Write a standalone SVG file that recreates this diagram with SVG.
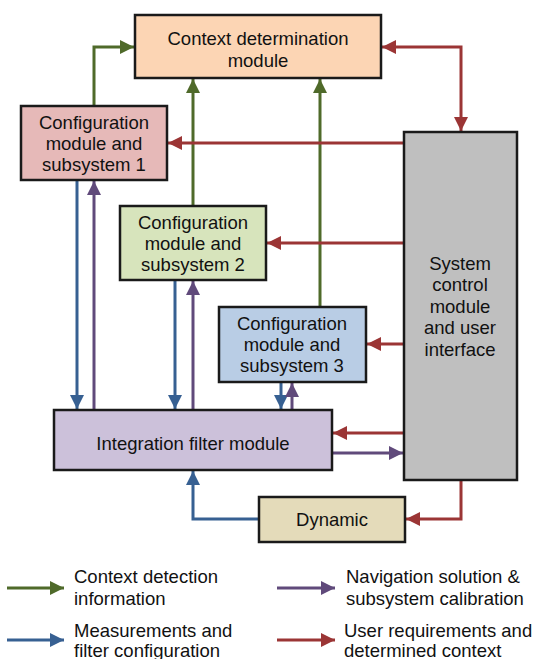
<svg xmlns="http://www.w3.org/2000/svg" width="534" height="659" viewBox="0 0 534 659">
<style>
.box{stroke:#1a1a1a;stroke-width:2.5}
text{font-family:"Liberation Sans",Arial,sans-serif;font-size:18.5px;fill:#111;text-anchor:middle}
.lg{text-anchor:start}
.c{fill:none;stroke-width:3}
.g{stroke:#4F6A2A}.b{stroke:#376092}.p{stroke:#604A7B}.r{stroke:#9B3535}
</style>
<defs>
<marker id="ag" markerUnits="userSpaceOnUse" markerWidth="15" markerHeight="15" refX="14" refY="7" orient="auto"><path d="M0,0L14,7L0,14z" fill="#4F6A2A"/></marker>
<marker id="ab" markerUnits="userSpaceOnUse" markerWidth="15" markerHeight="15" refX="14" refY="7" orient="auto"><path d="M0,0L14,7L0,14z" fill="#376092"/></marker>
<marker id="ap" markerUnits="userSpaceOnUse" markerWidth="15" markerHeight="15" refX="14" refY="7" orient="auto"><path d="M0,0L14,7L0,14z" fill="#604A7B"/></marker>
<marker id="ar" markerUnits="userSpaceOnUse" markerWidth="15" markerHeight="15" refX="14" refY="7" orient="auto"><path d="M0,0L14,7L0,14z" fill="#9B3535"/></marker>
<marker id="ars" markerUnits="userSpaceOnUse" markerWidth="15" markerHeight="15" refX="0" refY="7" orient="auto"><path d="M14,0L0,7L14,14z" fill="#9B3535"/></marker>
</defs>
<rect width="534" height="659" fill="#fff"/>
<g id="connectors">
<path class="c g" d="M94,106V47H134" marker-end="url(#ag)"/>
<path class="c g" d="M193,206V79" marker-end="url(#ag)"/>
<path class="c g" d="M320,307V79" marker-end="url(#ag)"/>
<path class="c r" d="M382,47H461V131" marker-start="url(#ars)" marker-end="url(#ar)"/>
<path class="c r" d="M404,143H168" marker-end="url(#ar)"/>
<path class="c r" d="M404,243H267" marker-end="url(#ar)"/>
<path class="c r" d="M404,344H367" marker-end="url(#ar)"/>
<path class="c r" d="M404,433H333" marker-end="url(#ar)"/>
<path class="c p" d="M332,453H403" marker-end="url(#ap)"/>
<path class="c b" d="M77,181V409" marker-end="url(#ab)"/>
<path class="c p" d="M94,410V181" marker-end="url(#ap)"/>
<path class="c b" d="M175,281V409" marker-end="url(#ab)"/>
<path class="c p" d="M193,410V281" marker-end="url(#ap)"/>
<path class="c b" d="M281,383V409" marker-end="url(#ab)"/>
<path class="c p" d="M292,410V383" marker-end="url(#ap)"/>
<path class="c r" d="M461,480V519H406" marker-end="url(#ar)"/>
<path class="c b" d="M259,519H193V471" marker-end="url(#ab)"/>
</g>
<g id="context">
<rect class="box" x="135" y="15" width="246" height="63" fill="#FCD5B4"/>
<text x="258" y="44.5">Context determination</text>
<text x="258" y="66.5">module</text>
</g>
<g id="config1">
<rect class="box" x="21" y="106" width="146" height="74" fill="#E6B9B8"/>
<text x="94" y="128.5">Configuration</text>
<text x="94" y="149.5">module and</text>
<text x="94" y="171">subsystem 1</text>
</g>
<g id="config2">
<rect class="box" x="120" y="206" width="146" height="74" fill="#D7E4BC"/>
<text x="193" y="228.5">Configuration</text>
<text x="193" y="249.5">module and</text>
<text x="193" y="270.5">subsystem 2</text>
</g>
<g id="config3">
<rect class="box" x="219" y="307" width="147" height="75" fill="#B9CDE5"/>
<text x="292" y="329.5">Configuration</text>
<text x="292" y="350.5">module and</text>
<text x="292" y="371.5">subsystem 3</text>
</g>
<g id="system">
<rect class="box" x="404" y="132" width="113" height="348" fill="#BFBFBF"/>
<text x="460" y="269.5">System</text>
<text x="460" y="291">control</text>
<text x="460" y="312.5">module</text>
<text x="460" y="333.5">and user</text>
<text x="460" y="355.5">interface</text>
</g>
<g id="filter">
<rect class="box" x="54" y="410" width="278" height="60" fill="#CCC1DA"/>
<text x="193" y="449.5">Integration filter module</text>
</g>
<g id="dynamic">
<rect class="box" x="259" y="497" width="146" height="45" fill="#E4DBBA"/>
<text x="332" y="525.5">Dynamic</text>
</g>
<g id="legend">
<path class="c g" d="M7,588H64" marker-end="url(#ag)"/>
<text class="lg" x="74" y="582.5">Context detection</text>
<text class="lg" x="74" y="604.5">information</text>
<path class="c b" d="M7,640H64" marker-end="url(#ab)"/>
<text class="lg" x="74" y="636.5">Measurements and</text>
<text class="lg" x="74" y="656.5">filter configuration</text>
<path class="c p" d="M277,588H335" marker-end="url(#ap)"/>
<text class="lg" x="346" y="582.5">Navigation solution &amp;</text>
<text class="lg" x="346" y="604.5">subsystem calibration</text>
<path class="c r" d="M277,640H335" marker-end="url(#ar)"/>
<text class="lg" x="344" y="636.5">User requirements and</text>
<text class="lg" x="344" y="656.5">determined context</text>
</g>
</svg>
